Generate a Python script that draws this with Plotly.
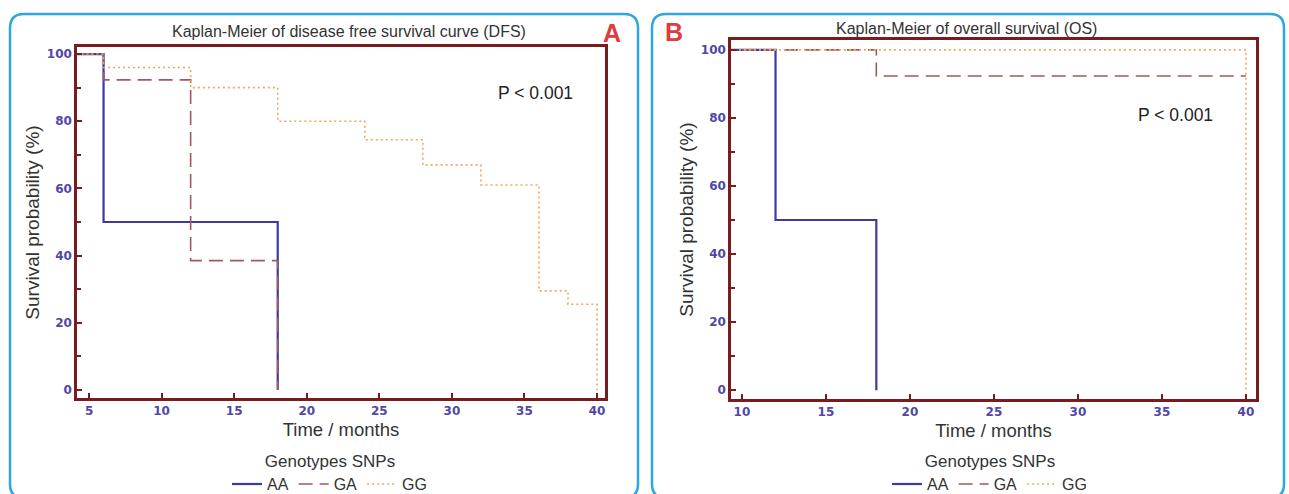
import plotly.graph_objects as go

W, H = 1289, 494

# ---- data ----
dfs_aa_t = [0, 6, 18]
dfs_aa_s = [100, 50, 0]
dfs_ga_t = [0, 6, 12, 18]
dfs_ga_s = [100, 92.3, 38.5, 0]
dfs_gg_t = [0, 6, 12, 18, 24, 28, 32, 36, 38, 40]
dfs_gg_s = [100, 96, 90, 80, 74.5, 67, 61, 29.5, 25.5, 0]

os_aa_t = [0, 12, 18]
os_aa_s = [100, 50, 0]
os_ga_t = [0, 18, 40]
os_ga_s = [100, 92.3, 92.3]
os_gg_t = [0, 40]
os_gg_s = [100, 0]

genotypes = ["AA", "GA", "GG"]
y_ticks = [0, 20, 40, 60, 80, 100]
title_a = "Kaplan-Meier of disease free survival curve (DFS)"
title_b = "Kaplan-Meier of overall survival (OS)"
p_text = "P < 0.001"

# ---- styles ----
FRAME = "#7a1b1e"
TICKC = "#5147a6"
BOX = "#2ea7df"
TXT = "#333333"
FONT = "Liberation Sans"
styles = {
    "AA": dict(color="#3b3ba0", width=2.2, dash="solid"),
    "GA": dict(color="#a05a5e", width=1.6, dash="14px,7px"),
    "GG": dict(color="#f2a55a", width=1.6, dash="2px,3px"),
}

def px(x):
    return x / W

def py(y):
    return 1 - y / H

fig = go.Figure()

panels = [
    ("x", "y", "legend", [(dfs_aa_t, dfs_aa_s), (dfs_ga_t, dfs_ga_s), (dfs_gg_t, dfs_gg_s)]),
    ("x2", "y2", "legend2", [(os_aa_t, os_aa_s), (os_ga_t, os_ga_s), (os_gg_t, os_gg_s)]),
]
for xa, ya, lg, series in panels:
    for name, (t, s) in zip(genotypes, series):
        st = styles[name]
        fig.add_trace(go.Scatter(
            x=t, y=s, mode="lines", name=name, line_shape="hv",
            line=dict(color=st["color"], width=st["width"], dash=st["dash"]),
            xaxis=xa, yaxis=ya, legend=lg, hoverinfo="skip"))

axis_common = dict(
    showline=True, linecolor=FRAME, linewidth=2.5, mirror=True,
    ticks="inside", tickcolor=FRAME, ticklen=5, tickwidth=1.5,
    showgrid=False, zeroline=False,
    tickfont=dict(family="DejaVu Sans", size=12, color=TICKC, weight="bold"),
)

xtitle = dict(text="Time / months", font=dict(size=18.5, color=TXT), standoff=6)
ytitle = dict(text="Survival probability (%)", font=dict(size=19, color=TXT), standoff=3)
legend_common = dict(
    orientation="h", xanchor="center", yanchor="top",
    title=dict(text="Genotypes SNPs", side="top center", font=dict(size=17, color=TXT)),
    font=dict(size=16, color=TXT), bgcolor="rgba(0,0,0,0)", itemwidth=30,
    tracegroupgap=0,
)

fig.update_layout(
    width=W, height=H,
    margin=dict(l=0, r=0, t=0, b=0, autoexpand=False),
    paper_bgcolor="white", plot_bgcolor="white",
    font=dict(family=FONT, color=TXT),
    xaxis=dict(domain=[px(77), px(605)], range=[4.17, 40.55], dtick=5, tick0=5,
               anchor="y", title=xtitle, **axis_common),
    yaxis=dict(domain=[py(398), py(47)], range=[-2.4, 102.1], tickvals=y_ticks,
               anchor="x", minor=dict(ticks="inside", dtick=10, ticklen=4, tickcolor=FRAME),
               title=ytitle, **axis_common),
    xaxis2=dict(domain=[px(731), px(1256)], range=[9.35, 40.6], dtick=5, tick0=10,
                anchor="y2", title=xtitle, **axis_common),
    yaxis2=dict(domain=[py(399), py(40)], range=[-2.6, 102.9], tickvals=y_ticks,
                anchor="x2", minor=dict(ticks="inside", dtick=10, ticklen=4, tickcolor=FRAME),
                title=ytitle, **axis_common),
    legend=dict(x=px(330), y=py(445), **legend_common),
    legend2=dict(x=px(990), y=py(445), **legend_common),
    showlegend=True,
)

def rounded_box(x0, y0, x1, y1, r):
    rx, ry = r / W, r / H
    X0, X1 = px(x0), px(x1)
    Y0, Y1 = py(y0), py(y1)  # Y0 top, Y1 bottom
    return (f"M {X0+rx},{Y0} L {X1-rx},{Y0} Q {X1},{Y0} {X1},{Y0-ry} "
            f"L {X1},{Y1+ry} Q {X1},{Y1} {X1-rx},{Y1} L {X0+rx},{Y1} "
            f"Q {X0},{Y1} {X0},{Y1+ry} L {X0},{Y0-ry} Q {X0},{Y0} {X0+rx},{Y0} Z")

fig.add_shape(type="path", path=rounded_box(10, 14, 638, 498, 14), xref="paper", yref="paper",
              line=dict(color=BOX, width=2.5), layer="below")
fig.add_shape(type="path", path=rounded_box(652, 14, 1284, 498, 14), xref="paper", yref="paper",
              line=dict(color=BOX, width=2.5), layer="below")

ann = [
    dict(text=title_a, x=px(349), y=py(32), font=dict(size=16, color=TXT)),
    dict(text=title_b, x=px(966), y=py(29), font=dict(size=16, color=TXT)),
    dict(text="<b>A</b>", x=px(612), y=py(33), font=dict(size=25, color="#e03c3c")),
    dict(text="<b>B</b>", x=px(674), y=py(32), font=dict(size=25, color="#e03c3c")),
    dict(text=p_text, x=px(535), y=py(93), font=dict(size=17.5, color="#222222")),
    dict(text=p_text, x=px(1175), y=py(115), font=dict(size=17.5, color="#222222")),
]
for a in ann:
    fig.add_annotation(xref="paper", yref="paper", showarrow=False,
                       xanchor="center", yanchor="middle", **a)

fig.write_html("out.html", config={"displayModeBar": False},
               post_script="document.body.style.margin='0';")
